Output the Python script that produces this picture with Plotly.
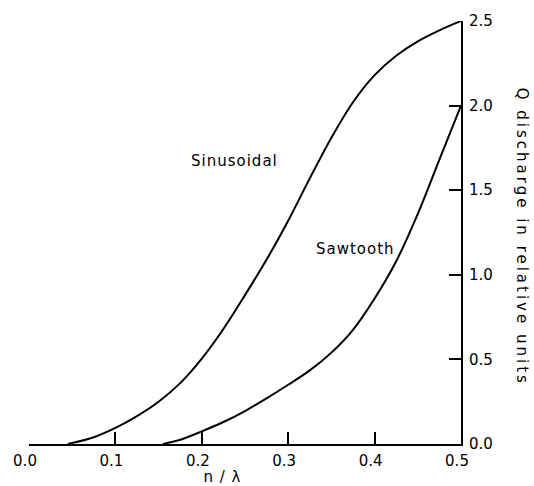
import plotly.graph_objects as go

# Data
sin_x = [0.045, 0.075, 0.10, 0.125, 0.15, 0.175, 0.20, 0.225, 0.25, 0.275,
         0.30, 0.325, 0.35, 0.375, 0.40, 0.425, 0.45, 0.475, 0.50]
sin_y = [0.0, 0.04, 0.095, 0.165, 0.25, 0.36, 0.505, 0.68, 0.88, 1.09,
         1.32, 1.57, 1.81, 2.02, 2.18, 2.295, 2.38, 2.445, 2.50]

saw_x = [0.155, 0.175, 0.20, 0.225, 0.25, 0.275, 0.30, 0.325, 0.35, 0.375,
         0.40, 0.425, 0.45, 0.475, 0.50]
saw_y = [0.0, 0.025, 0.075, 0.13, 0.195, 0.27, 0.35, 0.435, 0.54, 0.675,
         0.86, 1.08, 1.36, 1.68, 2.00]

x_ticks = [0.0, 0.1, 0.2, 0.3, 0.4, 0.5]
x_tick_labels = ["0.0", "0.1", "0.2", "0.3", "0.4", "0.5"]
y_ticks = [0.0, 0.5, 1.0, 1.5, 2.0, 2.5]
y_tick_labels = ["0.0", "0.5", "1.0", "1.5", "2.0", "2.5"]

curve_labels = [("Sinusoidal", 0.2375, 1.67), ("Sawtooth", 0.378, 1.15)]

FONT = "DejaVu Sans"

fig = go.Figure()
fig.add_trace(go.Scatter(x=sin_x, y=sin_y, mode="lines", name="Sinusoidal",
                         line=dict(color="black", width=2, shape="spline", smoothing=1)))
fig.add_trace(go.Scatter(x=saw_x, y=saw_y, mode="lines", name="Sawtooth",
                         line=dict(color="black", width=2, shape="spline", smoothing=1)))

for txt, lx, ly in curve_labels:
    fig.add_annotation(x=lx, y=ly, xref="x", yref="y", text=txt, showarrow=False,
                       font=dict(family=FONT, size=15, color="black"))

fig.add_annotation(x=0.2234, y=-0.078, xref="x", yref="paper", text="n / λ",
                   showarrow=False, yanchor="middle",
                   font=dict(family=FONT, size=15, color="black"))
fig.add_annotation(x=1.141, y=0.489, xref="paper", yref="paper",
                   xanchor="center", yanchor="middle",
                   text="Q discharge in relative units", showarrow=False,
                   textangle=90, font=dict(family=FONT, size=15, color="black"))

fig.update_layout(
    width=534, height=486,
    margin=dict(l=29, r=73, t=19, b=42),
    paper_bgcolor="white", plot_bgcolor="white",
    showlegend=False,
    font=dict(family=FONT, size=15, color="black"),
    xaxis=dict(range=[0, 0.5], tickvals=x_ticks, ticktext=x_tick_labels,
               showgrid=False, zeroline=False, showline=True, linecolor="black",
               linewidth=2, ticks="inside", ticklen=12, tickwidth=1.5,
               tickcolor="black", ticklabelshift=-4, ticklabelstandoff=2,
               tickfont=dict(family=FONT, size=15, color="black")),
    yaxis=dict(range=[0, 2.5], tickvals=y_ticks, ticktext=y_tick_labels,
               side="right", showgrid=False, zeroline=False, showline=True,
               linecolor="black", linewidth=2, ticks="inside", ticklen=12,
               tickwidth=1.5, tickcolor="black", ticklabelstandoff=3,
               tickfont=dict(family=FONT, size=15, color="black")),
)

post = """
document.body.style.margin = '0';
document.body.style.padding = '0';
var gd = document.getElementById('{plot_id}');
function spacing(){
  var a = gd.querySelectorAll('.annotation-text');
  a.forEach(function(t){
    var s = t.textContent;
    if (s.indexOf('discharge') >= 0) { t.style.letterSpacing = '3px'; }
    else { t.style.letterSpacing = '1px'; }
  });
}
spacing();
gd.on('plotly_afterplot', spacing);
"""

fig.write_html("out.html", post_script=post, config={"displayModeBar": False})
